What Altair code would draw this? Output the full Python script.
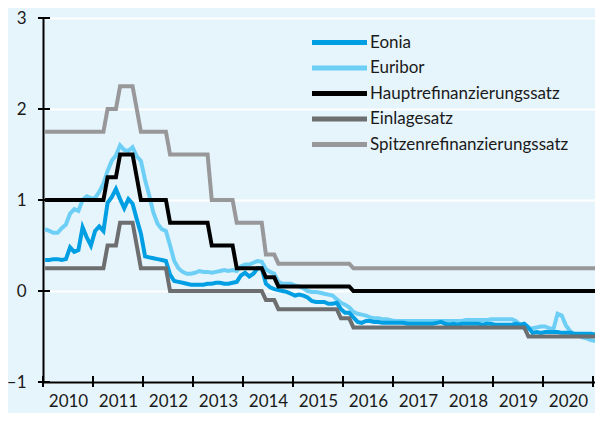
import altair as alt
import pandas as pd

series_names = ["Eonia", "Euribor", "Hauptrefinanzierungssatz", "Einlagesatz", "Spitzenrefinanzierungssatz"]
series_colors = ["#009fe3", "#6dcff6", "#000000", "#6d6e70", "#98989a"]
draw_order = ["Euribor", "Eonia", "Spitzenrefinanzierungssatz", "Einlagesatz", "Hauptrefinanzierungssatz"]

start_year = 2010
year_ticks = list(range(2010, 2022))
year_labels = [y + 0.5 for y in range(2010, 2021)]
y_ticks = [-1, 0, 1, 2, 3]

# monthly values, Jan 2010 - Mar 2021
eonia = [
    0.34, 0.34, 0.35, 0.35, 0.34, 0.35, 0.48, 0.43, 0.45, 0.70, 0.59, 0.50,
    0.66, 0.71, 0.66, 0.97, 1.03, 1.12, 1.01, 0.91, 1.01, 0.96, 0.79, 0.63,
    0.38, 0.37, 0.36, 0.35, 0.34, 0.33, 0.18, 0.11, 0.10, 0.09, 0.08, 0.07,
    0.07, 0.07, 0.07, 0.08, 0.08, 0.09, 0.09, 0.08, 0.08, 0.09, 0.10, 0.17,
    0.20, 0.16, 0.19, 0.25, 0.25, 0.08, 0.04, 0.02, 0.01, 0.00, -0.01, -0.03,
    -0.05, -0.04, -0.05, -0.07, -0.11, -0.12, -0.12, -0.12, -0.14, -0.14, -0.13, -0.20,
    -0.24, -0.24, -0.29, -0.34, -0.35, -0.33, -0.33, -0.34, -0.34, -0.35, -0.35, -0.35,
    -0.35, -0.35, -0.35, -0.36, -0.36, -0.36, -0.36, -0.36, -0.36, -0.36, -0.35, -0.34,
    -0.36, -0.37, -0.36, -0.37, -0.36, -0.36, -0.36, -0.36, -0.36, -0.37, -0.36, -0.36,
    -0.37, -0.37, -0.37, -0.37, -0.37, -0.36, -0.37, -0.36, -0.40, -0.46, -0.45, -0.46,
    -0.45, -0.45, -0.45, -0.45, -0.46, -0.46, -0.46, -0.47, -0.47, -0.47, -0.47, -0.47,
    -0.48, -0.48, -0.48,
]
euribor = [
    0.68, 0.66, 0.64, 0.64, 0.69, 0.73, 0.85, 0.90, 0.88, 1.00, 1.04, 1.02,
    1.02, 1.09, 1.18, 1.32, 1.43, 1.49, 1.60, 1.55, 1.54, 1.58, 1.48, 1.43,
    1.22, 1.05, 0.86, 0.74, 0.68, 0.66, 0.50, 0.33, 0.25, 0.21, 0.19, 0.19,
    0.20, 0.22, 0.21, 0.21, 0.20, 0.21, 0.22, 0.23, 0.22, 0.23, 0.22, 0.27,
    0.29, 0.29, 0.31, 0.33, 0.32, 0.24, 0.21, 0.19, 0.10, 0.08, 0.08, 0.08,
    0.06, 0.05, 0.03, 0.00, -0.01, -0.01, -0.02, -0.03, -0.04, -0.05, -0.09, -0.13,
    -0.15, -0.18, -0.23, -0.25, -0.26, -0.27, -0.29, -0.30, -0.30, -0.31, -0.31, -0.32,
    -0.33, -0.33, -0.33, -0.33, -0.33, -0.33, -0.33, -0.33, -0.33, -0.33, -0.33, -0.33,
    -0.33, -0.33, -0.33, -0.33, -0.33, -0.32, -0.32, -0.32, -0.32, -0.32, -0.32, -0.31,
    -0.31, -0.31, -0.31, -0.31, -0.31, -0.33, -0.37, -0.41, -0.42, -0.41, -0.40, -0.39,
    -0.39, -0.41, -0.42, -0.25, -0.27, -0.38, -0.44, -0.48, -0.49, -0.51, -0.52, -0.54,
    -0.55, -0.54, -0.54,
]
haupt = [
    1.00, 1.00, 1.00, 1.00, 1.00, 1.00, 1.00, 1.00, 1.00, 1.00, 1.00, 1.00,
    1.00, 1.00, 1.00, 1.25, 1.25, 1.25, 1.50, 1.50, 1.50, 1.50, 1.25, 1.00,
    1.00, 1.00, 1.00, 1.00, 1.00, 1.00, 0.75, 0.75, 0.75, 0.75, 0.75, 0.75,
    0.75, 0.75, 0.75, 0.75, 0.50, 0.50, 0.50, 0.50, 0.50, 0.50, 0.25, 0.25,
    0.25, 0.25, 0.25, 0.25, 0.25, 0.15, 0.15, 0.15, 0.05, 0.05, 0.05, 0.05,
    0.05, 0.05, 0.05, 0.05, 0.05, 0.05, 0.05, 0.05, 0.05, 0.05, 0.05, 0.05,
    0.05, 0.05, 0.00, 0.00, 0.00, 0.00, 0.00, 0.00, 0.00, 0.00, 0.00, 0.00,
    0.00, 0.00, 0.00, 0.00, 0.00, 0.00, 0.00, 0.00, 0.00, 0.00, 0.00, 0.00,
    0.00, 0.00, 0.00, 0.00, 0.00, 0.00, 0.00, 0.00, 0.00, 0.00, 0.00, 0.00,
    0.00, 0.00, 0.00, 0.00, 0.00, 0.00, 0.00, 0.00, 0.00, 0.00, 0.00, 0.00,
    0.00, 0.00, 0.00, 0.00, 0.00, 0.00, 0.00, 0.00, 0.00, 0.00, 0.00, 0.00,
    0.00, 0.00, 0.00,
]
einlage = [
    0.25, 0.25, 0.25, 0.25, 0.25, 0.25, 0.25, 0.25, 0.25, 0.25, 0.25, 0.25,
    0.25, 0.25, 0.25, 0.50, 0.50, 0.50, 0.75, 0.75, 0.75, 0.75, 0.50, 0.25,
    0.25, 0.25, 0.25, 0.25, 0.25, 0.25, 0.00, 0.00, 0.00, 0.00, 0.00, 0.00,
    0.00, 0.00, 0.00, 0.00, 0.00, 0.00, 0.00, 0.00, 0.00, 0.00, 0.00, 0.00,
    0.00, 0.00, 0.00, 0.00, 0.00, -0.10, -0.10, -0.10, -0.20, -0.20, -0.20, -0.20,
    -0.20, -0.20, -0.20, -0.20, -0.20, -0.20, -0.20, -0.20, -0.20, -0.20, -0.20, -0.30,
    -0.30, -0.30, -0.40, -0.40, -0.40, -0.40, -0.40, -0.40, -0.40, -0.40, -0.40, -0.40,
    -0.40, -0.40, -0.40, -0.40, -0.40, -0.40, -0.40, -0.40, -0.40, -0.40, -0.40, -0.40,
    -0.40, -0.40, -0.40, -0.40, -0.40, -0.40, -0.40, -0.40, -0.40, -0.40, -0.40, -0.40,
    -0.40, -0.40, -0.40, -0.40, -0.40, -0.40, -0.40, -0.40, -0.50, -0.50, -0.50, -0.50,
    -0.50, -0.50, -0.50, -0.50, -0.50, -0.50, -0.50, -0.50, -0.50, -0.50, -0.50, -0.50,
    -0.50, -0.50, -0.50,
]
spitzen = [
    1.75, 1.75, 1.75, 1.75, 1.75, 1.75, 1.75, 1.75, 1.75, 1.75, 1.75, 1.75,
    1.75, 1.75, 1.75, 2.00, 2.00, 2.00, 2.25, 2.25, 2.25, 2.25, 2.00, 1.75,
    1.75, 1.75, 1.75, 1.75, 1.75, 1.75, 1.50, 1.50, 1.50, 1.50, 1.50, 1.50,
    1.50, 1.50, 1.50, 1.50, 1.00, 1.00, 1.00, 1.00, 1.00, 1.00, 0.75, 0.75,
    0.75, 0.75, 0.75, 0.75, 0.75, 0.40, 0.40, 0.40, 0.30, 0.30, 0.30, 0.30,
    0.30, 0.30, 0.30, 0.30, 0.30, 0.30, 0.30, 0.30, 0.30, 0.30, 0.30, 0.30,
    0.30, 0.30, 0.25, 0.25, 0.25, 0.25, 0.25, 0.25, 0.25, 0.25, 0.25, 0.25,
    0.25, 0.25, 0.25, 0.25, 0.25, 0.25, 0.25, 0.25, 0.25, 0.25, 0.25, 0.25,
    0.25, 0.25, 0.25, 0.25, 0.25, 0.25, 0.25, 0.25, 0.25, 0.25, 0.25, 0.25,
    0.25, 0.25, 0.25, 0.25, 0.25, 0.25, 0.25, 0.25, 0.25, 0.25, 0.25, 0.25,
    0.25, 0.25, 0.25, 0.25, 0.25, 0.25, 0.25, 0.25, 0.25, 0.25, 0.25, 0.25,
    0.25, 0.25, 0.25,
]

values_by_name = {
    "Eonia": eonia,
    "Euribor": euribor,
    "Hauptrefinanzierungssatz": haupt,
    "Einlagesatz": einlage,
    "Spitzenrefinanzierungssatz": spitzen,
}

rows = []
for k, name in enumerate(draw_order):
    for i, v in enumerate(values_by_name[name]):
        rows.append({"t": start_year + (i + 0.5) / 12, "value": v, "series": name, "z": k})
df = pd.DataFrame(rows)

FONT = "Lato"
TXT = "#1a1a1a"
BG = "#e6f4fb"
W, H = 552, 364

x_scale = alt.Scale(domain=[2010, 2021.04], nice=False, zero=False)
y_scale = alt.Scale(domain=[-1, 3], nice=False, zero=False)
color_scale = alt.Scale(domain=series_names, range=series_colors)

x_axis = alt.Axis(values=year_labels, labelExpr="'' + floor(datum.value)", grid=False, ticks=False,
                  domain=True, domainColor="black", domainWidth=2, labelPadding=11, labelFontSize=17,
                  labelFont=FONT, labelColor=TXT, labelAngle=0, title=None,
                  labelFlush=False, labelOverlap=False)
y_axis = alt.Axis(values=y_ticks, labelExpr="datum.value < 0 ? '\u2013' + abs(datum.value) : datum.label",
                  grid=True, gridColor="white", gridWidth=2, gridOpacity=1,
                  domain=True, domainColor="black", domainWidth=2,
                  ticks=False, labelPadding=17, labelFontSize=17, labelFont=FONT, labelColor=TXT,
                  title=None)

legend = alt.Legend(title=None, orient="none", legendX=288, legendY=16,
                    symbolType="M-5,0H5", symbolSize=121, symbolStrokeWidth=5,
                    labelFont=FONT, labelFontSize=17, labelColor=TXT, labelOffset=22,
                    rowPadding=4.5, values=series_names, labelLimit=400)

lines = alt.Chart(df).mark_line(strokeWidth=4, clip=True, strokeJoin="miter").encode(
    x=alt.X("t:Q", scale=x_scale, axis=x_axis),
    y=alt.Y("value:Q", scale=y_scale, axis=y_axis),
    color=alt.Color("series:N", scale=color_scale, legend=legend),
    detail="z:O",
)

ytick_df = pd.DataFrame({"value": y_ticks})
xtick_df = pd.DataFrame({"t": year_ticks})
ytick_rules = alt.Chart(ytick_df).mark_rule(color="black", strokeWidth=2).encode(
    y=alt.Y("value:Q", scale=y_scale, axis=y_axis), x=alt.value(-5), x2=alt.value(7))
xtick_rules = alt.Chart(xtick_df).mark_rule(color="black", strokeWidth=2).encode(
    x=alt.X("t:Q", scale=x_scale, axis=x_axis), y=alt.value(H - 6), y2=alt.value(H + 5))

chart = alt.layer(lines, ytick_rules, xtick_rules).properties(
    width=W, height=H, background=BG,
    autosize=alt.AutoSizeParams(type="none"),
    padding={"left": 35, "top": 10, "right": 0, "bottom": 31},
).configure_view(stroke=None)

chart.save("out.html", embed_options={"renderer": "svg", "actions": False})
